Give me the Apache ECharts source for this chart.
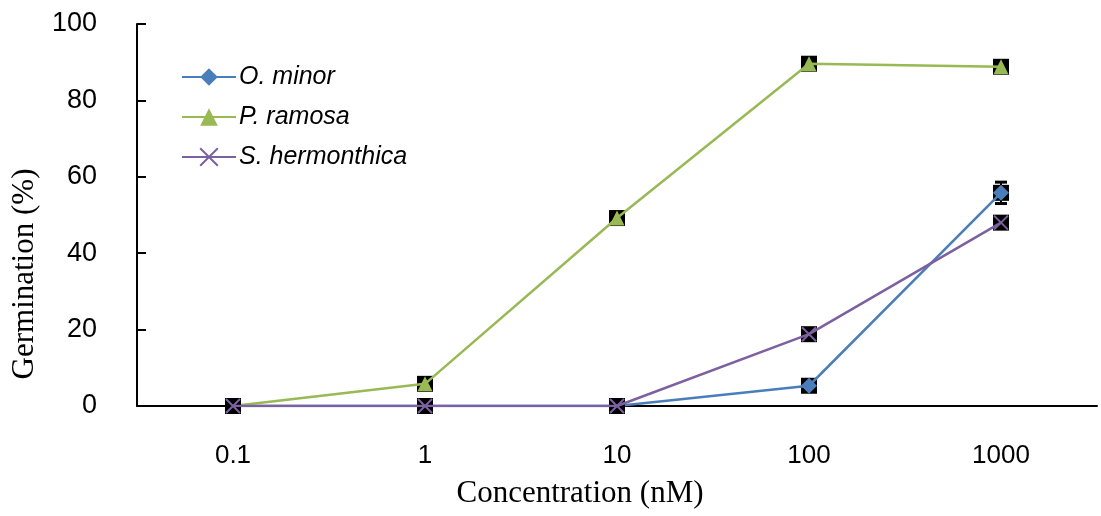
<!DOCTYPE html>
<html><head><meta charset="utf-8">
<script src="https://cdn.jsdelivr.net/npm/echarts@6/dist/echarts.min.js"></script>
<style>html,body{margin:0;padding:0;background:#fff}#c{width:1101px;height:516px}</style>
</head><body><div id="c"></div>
<script>
const categories = ['0.1', '1', '10', '100', '1000'];
const oMinor = [0, 0, 0, 5.3, 55.8];
const pRamosa = [0, 5.8, 49.2, 89.6, 88.8];
const sHermonthica = [0, 0, 0, 18.8, 48.0];
const oMinorErr = [0, 0, 0, 0.6, 2.8];
const pRamosaErr = [0, 0.4, 1.5, 0.8, 0.8];
const sHermonthicaErr = [0, 0, 0, 0.8, 1.2];
const yTicks = [0, 20, 40, 60, 80, 100];

const BLUE = '#4a7ebb', GREEN = '#98b954', PURPLE = '#7d60a0';
const XPATH = 'path://M0,0 L10,10 M10,0 L0,10';

function errSeries(vals, errs, z) {
  return {
    type: 'custom', silent: true, z: z,
    data: vals.map((v, i) => [i, v, errs[i]]),
    renderItem: function (params, api) {
      const x = api.value(0), v = api.value(1), e = api.value(2);
      const c = api.coord([x, v]);
      const hi = api.coord([x, v + e]), lo = api.coord([x, v - e]);
      const s = 8;
      const children = [
        {type: 'rect', shape: {x: c[0] - s, y: c[1] - s, width: 2 * s, height: 2 * s}, style: {fill: '#000'}}
      ];
      if (e > 0.5) {
        children.push({type: 'line', shape: {x1: c[0], y1: hi[1], x2: c[0], y2: lo[1]}, style: {stroke: '#000', lineWidth: 2}});
        children.push({type: 'line', shape: {x1: c[0] - 6, y1: hi[1], x2: c[0] + 6, y2: hi[1]}, style: {stroke: '#000', lineWidth: 3}});
        children.push({type: 'line', shape: {x1: c[0] - 6, y1: lo[1], x2: c[0] + 6, y2: lo[1]}, style: {stroke: '#000', lineWidth: 3}});
      }
      return {type: 'group', children: children};
    }
  };
}

const chart = echarts.init(document.getElementById('c'), null, {renderer: 'canvas'});
chart.setOption({
  animation: false,
  backgroundColor: '#fff',
  grid: {left: 137, right: 4, top: 24, bottom: 110, containLabel: false, outerBoundsMode: 'none'},
  legend: {
    orient: 'vertical', left: 176, top: 58, itemGap: 12,
    itemWidth: 54, itemHeight: 22,
    textStyle: {fontFamily: 'Liberation Sans', fontSize: 25, fontStyle: 'italic', color: '#000', padding: [0, 0, 0, -2], lineHeight: 28},
    data: ['O. minor', 'P. ramosa', 'S. hermonthica']
  },
  xAxis: {
    type: 'category', data: categories, boundaryGap: true,
    name: 'Concentration (nM)', nameLocation: 'middle', nameGap: 72,
    nameTextStyle: {fontFamily: 'Liberation Serif', fontSize: 31, color: '#000', padding: [0, 74, 0, 0]},
    axisLine: {lineStyle: {color: '#000', width: 2}},
    axisTick: {inside: true, length: 9, lineStyle: {color: '#000', width: 2}},
    axisLabel: {color: '#000', fontFamily: 'Liberation Sans', fontSize: 26, margin: 37}
  },
  yAxis: {
    type: 'value', min: 0, max: 100, interval: 20,
    name: 'Germination (%)', nameLocation: 'middle', nameGap: 97, nameRotate: 90,
    nameTextStyle: {fontFamily: 'Liberation Serif', fontSize: 31, color: '#000', padding: [0, 0, 0, -118]},
    axisLine: {show: true, lineStyle: {color: '#000', width: 2}},
    axisTick: {show: true, inside: true, length: 9, lineStyle: {color: '#000', width: 2}},
    splitLine: {show: false},
    axisLabel: {color: '#000', fontFamily: 'Liberation Sans', fontSize: 27, margin: 40,
      formatter: v => yTicks.includes(v) ? String(v) : ''}
  },
  series: [
    errSeries(oMinor, oMinorErr, 1),
    {name: 'O. minor', type: 'line', data: oMinor, z: 2, color: BLUE,
      symbol: 'diamond', symbolSize: 16, lineStyle: {color: BLUE, width: 2.5},
      itemStyle: {color: BLUE}},
    errSeries(pRamosa, pRamosaErr, 3),
    {name: 'P. ramosa', type: 'line', data: pRamosa, z: 4, color: GREEN,
      symbol: 'triangle', symbolSize: 15, lineStyle: {color: GREEN, width: 2.5},
      itemStyle: {color: GREEN}},
    errSeries(sHermonthica, sHermonthicaErr, 5),
    {name: 'S. hermonthica', type: 'line', data: sHermonthica, z: 6, color: PURPLE,
      symbol: XPATH, symbolSize: 14, symbolKeepAspect: true,
      lineStyle: {color: PURPLE, width: 2.5},
      itemStyle: {color: 'none', borderColor: PURPLE, borderWidth: 2}}
  ]
});
</script></body></html>
